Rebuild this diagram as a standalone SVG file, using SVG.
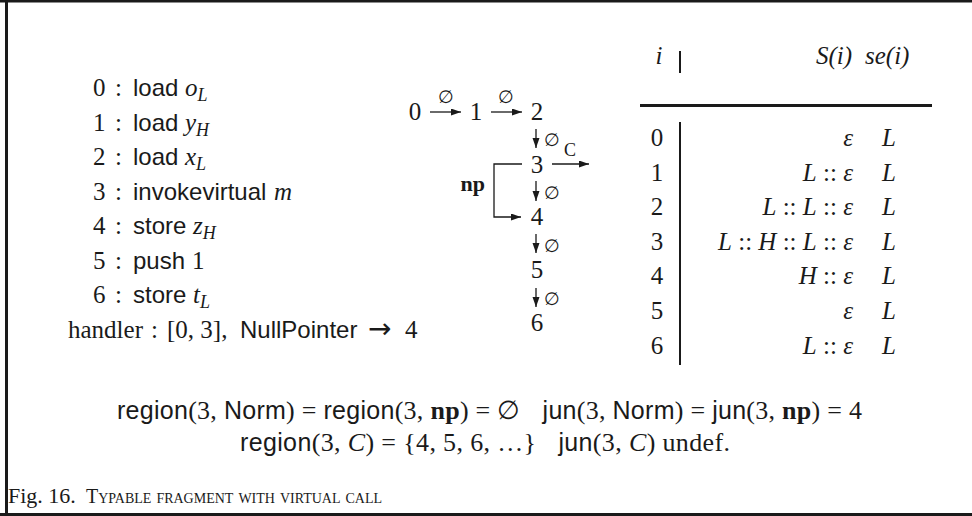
<svg xmlns="http://www.w3.org/2000/svg" width="972" height="516" viewBox="0 0 972 516">
<style>
text{fill:#1a1a1a}
.rm{font-family:"Liberation Serif",serif;font-size:25px}
.it{font-style:italic}
.sf{font-family:"Liberation Sans",sans-serif;font-size:24px}
.sub{font-size:18px;font-style:italic}
.bf{font-weight:bold}
.arr{font-family:"DejaVu Sans",sans-serif;font-size:28px}
.lab{font-family:"DejaVu Serif","Liberation Serif",serif;font-size:18px}
.edge{fill:none;stroke:#1a1a1a;stroke-width:1.3}
.rule{stroke:#1a1a1a;fill:none}
.cap{font-family:"Liberation Serif",serif;font-size:22px}
</style>
<defs>
<marker id="ah" markerUnits="userSpaceOnUse" markerWidth="11" markerHeight="8" refX="10" refY="3.5" orient="auto">
<path d="M0,0 L10,3.5 L0,7 z" fill="#1a1a1a"/>
</marker>
</defs>
<rect width="972" height="516" fill="#fff"/>
<g id="frame" class="rule">
<line x1="6.5" y1="0" x2="6.5" y2="516" stroke-width="3"/>
<line x1="0" y1="1.2" x2="972" y2="1.2" stroke-width="2.5"/>
<line x1="0" y1="514.5" x2="972" y2="514.5" stroke-width="3"/>
</g>
<g id="listing">
<text class="rm" y="96"><tspan x="93">0</tspan><tspan x="115">:</tspan><tspan class="sf" x="133">load</tspan><tspan class="it" x="185">o</tspan><tspan class="sub" dy="5">L</tspan></text>
<text class="rm" y="130.5"><tspan x="93">1</tspan><tspan x="115">:</tspan><tspan class="sf" x="133">load</tspan><tspan class="it" x="185">y</tspan><tspan class="sub" dy="5">H</tspan></text>
<text class="rm" y="165"><tspan x="93">2</tspan><tspan x="115">:</tspan><tspan class="sf" x="133">load</tspan><tspan class="it" x="185">x</tspan><tspan class="sub" dy="5">L</tspan></text>
<text class="rm" y="199.5"><tspan x="93">3</tspan><tspan x="115">:</tspan><tspan class="sf" x="133">invokevirtual</tspan><tspan class="it" x="274">m</tspan></text>
<text class="rm" y="234"><tspan x="93">4</tspan><tspan x="115">:</tspan><tspan class="sf" x="133">store</tspan><tspan class="it" x="193">z</tspan><tspan class="sub" dy="5">H</tspan></text>
<text class="rm" y="268.5"><tspan x="93">5</tspan><tspan x="115">:</tspan><tspan class="sf" x="133">push</tspan><tspan x="192">1</tspan></text>
<text class="rm" y="303"><tspan x="93">6</tspan><tspan x="115">:</tspan><tspan class="sf" x="133">store</tspan><tspan class="it" x="193">t</tspan><tspan class="sub" dy="5">L</tspan></text>
<text class="rm" y="337.5"><tspan x="68">handler</tspan><tspan x="151">:</tspan><tspan x="167">[0, 3],</tspan><tspan class="sf" x="240">NullPointer</tspan><tspan class="arr" x="368">→</tspan><tspan x="405">4</tspan></text>
</g>
<g id="n0"><text class="rm" x="415" y="120" text-anchor="middle">0</text></g>
<g id="n1"><text class="rm" x="476" y="120" text-anchor="middle">1</text></g>
<g id="n2"><text class="rm" x="537" y="120" text-anchor="middle">2</text></g>
<g id="n3"><text class="rm" x="537" y="172.5" text-anchor="middle">3</text></g>
<g id="n4"><text class="rm" x="537" y="225" text-anchor="middle">4</text></g>
<g id="n5"><text class="rm" x="537" y="278" text-anchor="middle">5</text></g>
<g id="n6"><text class="rm" x="537" y="331" text-anchor="middle">6</text></g>
<g id="edges">
<path class="edge" d="M430,112 H461" marker-end="url(#ah)"/>
<path class="edge" d="M491,112 H522" marker-end="url(#ah)"/>
<path class="edge" d="M536,129 V148" marker-end="url(#ah)"/>
<path class="edge" d="M552,164 H589" marker-end="url(#ah)"/>
<path class="edge" d="M522,164 H494 V217 H521" marker-end="url(#ah)"/>
<path class="edge" d="M536,181 V201" marker-end="url(#ah)"/>
<path class="edge" d="M536,234 V253" marker-end="url(#ah)"/>
<path class="edge" d="M536,288 V307" marker-end="url(#ah)"/>
<text class="lab" x="446" y="103" text-anchor="middle">∅</text>
<text class="lab" x="506" y="103" text-anchor="middle">∅</text>
<text class="lab" x="544" y="146">∅</text>
<text class="lab" x="544" y="199">∅</text>
<text class="lab" x="544" y="252">∅</text>
<text class="lab" x="544" y="305">∅</text>
<text class="rm" x="570" y="156" text-anchor="middle" style="font-size:18px">C</text>
<text class="rm bf" x="485" y="191" text-anchor="end" style="font-size:22px">np</text>
</g>
<g id="table">
<text class="rm it" x="659" y="64" text-anchor="middle">i</text>
<text class="rm it" x="852" y="64" text-anchor="end">S(i)</text>
<text class="rm it" x="865" y="64">se(i)</text>
<line class="rule" x1="680" y1="51" x2="680" y2="73" stroke-width="2"/>
<line class="rule" x1="640" y1="105.5" x2="932" y2="105.5" stroke-width="3"/>
<line class="rule" x1="680" y1="122" x2="680" y2="365" stroke-width="2"/>
<g id="row0"><text class="rm" x="657" y="146" text-anchor="middle">0</text><text class="rm it" x="853" y="146" text-anchor="end">ε</text><text class="rm it" x="882" y="146">L</text></g>
<g id="row1"><text class="rm" x="657" y="180.6" text-anchor="middle">1</text><text class="rm" x="853" y="180.6" text-anchor="end"><tspan class="it">L</tspan> :: <tspan class="it">ε</tspan></text><text class="rm it" x="882" y="180.6">L</text></g>
<g id="row2"><text class="rm" x="657" y="215.2" text-anchor="middle">2</text><text class="rm" x="853" y="215.2" text-anchor="end"><tspan class="it">L</tspan> :: <tspan class="it">L</tspan> :: <tspan class="it">ε</tspan></text><text class="rm it" x="882" y="215.2">L</text></g>
<g id="row3"><text class="rm" x="657" y="249.8" text-anchor="middle">3</text><text class="rm" x="853" y="249.8" text-anchor="end"><tspan class="it">L</tspan> :: <tspan class="it">H</tspan> :: <tspan class="it">L</tspan> :: <tspan class="it">ε</tspan></text><text class="rm it" x="882" y="249.8">L</text></g>
<g id="row4"><text class="rm" x="657" y="284.4" text-anchor="middle">4</text><text class="rm" x="853" y="284.4" text-anchor="end"><tspan class="it">H</tspan> :: <tspan class="it">ε</tspan></text><text class="rm it" x="882" y="284.4">L</text></g>
<g id="row5"><text class="rm" x="657" y="319" text-anchor="middle">5</text><text class="rm it" x="853" y="319" text-anchor="end">ε</text><text class="rm it" x="882" y="319">L</text></g>
<g id="row6"><text class="rm" x="657" y="353.6" text-anchor="middle">6</text><text class="rm" x="853" y="353.6" text-anchor="end"><tspan class="it">L</tspan> :: <tspan class="it">ε</tspan></text><text class="rm it" x="882" y="353.6">L</text></g>
</g>
<g id="equations">
<text class="rm" x="117" y="419" textLength="745" style="font-size:26px"><tspan class="sf" style="font-size:25px">region</tspan>(3, <tspan class="sf" style="font-size:25px">Norm</tspan>) = <tspan class="sf" style="font-size:25px">region</tspan>(3, <tspan class="bf">np</tspan>) = ∅<tspan class="sf" dx="22" style="font-size:25px">jun</tspan>(3, <tspan class="sf" style="font-size:25px">Norm</tspan>) = <tspan class="sf" style="font-size:25px">jun</tspan>(3, <tspan class="bf">np</tspan>) = 4</text>
<text class="rm" x="240" y="451" textLength="490" style="font-size:26px"><tspan class="sf" style="font-size:25px">region</tspan>(3, <tspan class="it">C</tspan>) = {4, 5, 6, …}<tspan class="sf" dx="22" style="font-size:25px">jun</tspan>(3, <tspan class="it">C</tspan>) undef.</text>
</g>
<g id="caption">
<text class="cap" x="8" y="503">Fig. 16.</text>
<text class="cap" x="86" y="503" style="font-size:20px;font-variant:small-caps">Typable fragment with virtual call</text>
</g>
</svg>
